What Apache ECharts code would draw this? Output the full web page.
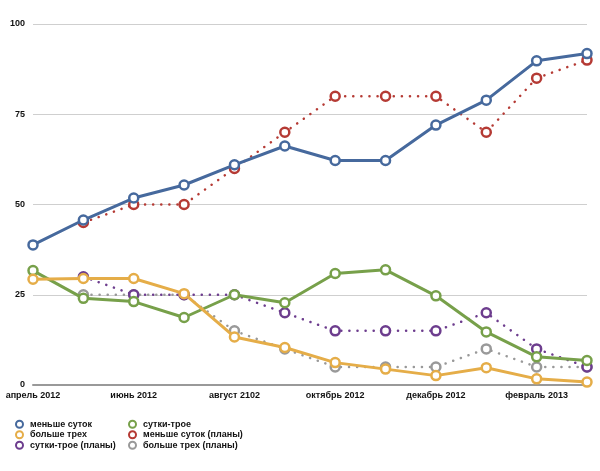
<!DOCTYPE html>
<html>
<head>
<meta charset="utf-8">
<script src="https://cdn.jsdelivr.net/npm/echarts@6/dist/echarts.min.js"></script>
<style>html,body{margin:0;padding:0;background:#fff}#c{width:600px;height:471px}</style>
</head>
<body>
<div id="c"></div>
<script>
const categories = ['апрель 2012','май 2012','июнь 2012','июль 2012','август 2102','сентябрь 2012','октябрь 2012','ноябрь 2012','декабрь 2012','январь 2013','февраль 2013','март 2013'];
const lessDay = [38.8, 45.7, 51.8, 55.4, 61, 66.2, 62.2, 62.2, 72, 78.9, 89.8, 91.8];
const dayThree = [31.7, 24, 23.1, 18.7, 25, 22.8, 30.9, 31.9, 24.7, 14.7, 7.8, 6.8];
const moreThree = [29.3, 29.5, 29.5, 25.3, 13.3, 10.4, 6.2, 4.4, 2.6, 4.8, 1.7, 0.8];
const lessDayPlan = [null, 45, 50, 50, 60, 70, 80, 80, 80, 70, 85, 90];
const dayThreePlan = [null, 30, 25, 25, 25, 20, 15, 15, 15, 20, 10, 5];
const moreThreePlan = [null, 25, 25, 25, 15, 10, 5, 5, 5, 10, 5, 5];
const yTicks = [0, 25, 50, 75, 100];

const C = {blue:'#46699d', green:'#77a04a', yellow:'#e5ad48', red:'#b53a34', purple:'#6d3d8e', gray:'#999999'};
const font = 'Liberation Sans, Arial, sans-serif';

function solid(name, data, color, z) {
  return {name, type:'line', data, z, symbol:'circle', symbolSize:9, showSymbol:true,
    itemStyle:{color:'#fff', borderColor:color, borderWidth:2.5},
    lineStyle:{color, width:3}, emphasis:{disabled:true}, animation:false};
}
function dotted(name, data, color, z) {
  return {name, type:'line', data, z, symbol:'circle', symbolSize:9, showSymbol:true,
    itemStyle:{color:'#fff', borderColor:color, borderWidth:2.5},
    lineStyle:{color, width:2.5, type:[0.1, 8], cap:'round'}, emphasis:{disabled:true}, animation:false};
}
const legendBase = {orient:'vertical', itemWidth:7, itemHeight:7, itemGap:0, icon:'circle',
  textStyle:{fontFamily:font, fontWeight:'bold', fontSize:9, lineHeight:10.5, color:'#111', padding:[0,0,0,2]}, selectedMode:false};

const chart = echarts.init(document.getElementById('c'), null, {renderer:'canvas'});
chart.setOption({
  backgroundColor:'#fff',
  animation:false,
  grid:{left:33, right:13, top:24, bottom:86},
  legend:[
    Object.assign({}, legendBase, {left:10, top:414, data:[
      {name:'меньше суток', itemStyle:{color:'#fff', borderColor:C.blue, borderWidth:2}},
      {name:'больше трех', itemStyle:{color:'#fff', borderColor:C.yellow, borderWidth:2}},
      {name:'сутки-трое (планы)', itemStyle:{color:'#fff', borderColor:C.purple, borderWidth:2}}]}),
    Object.assign({}, legendBase, {left:123, top:414, data:[
      {name:'сутки-трое', itemStyle:{color:'#fff', borderColor:C.green, borderWidth:2}},
      {name:'меньше суток (планы)', itemStyle:{color:'#fff', borderColor:C.red, borderWidth:2}},
      {name:'больше трех (планы)', itemStyle:{color:'#fff', borderColor:C.gray, borderWidth:2}}]})
  ],
  xAxis:{type:'category', data:categories, boundaryGap:false,
    axisLine:{lineStyle:{color:'#999', width:2}}, axisTick:{show:false},
    axisLabel:{interval:1, fontFamily:font, fontWeight:'bold', fontSize:9, color:'#111', margin:6}},
  yAxis:{type:'value', min:yTicks[0], max:yTicks[yTicks.length-1], interval:25,
    axisLine:{show:false}, axisTick:{show:false},
    splitLine:{lineStyle:{color:'#cfcfcf', width:1}},
    axisLabel:{fontFamily:font, fontWeight:'bold', fontSize:9, color:'#111', margin:8}},
  series:[
    dotted('больше трех (планы)', moreThreePlan, C.gray, 2),
    dotted('сутки-трое (планы)', dayThreePlan, C.purple, 3),
    dotted('меньше суток (планы)', lessDayPlan, C.red, 4),
    solid('сутки-трое', dayThree, C.green, 5),
    solid('больше трех', moreThree, C.yellow, 6),
    solid('меньше суток', lessDay, C.blue, 7)
  ]
});
</script>
</body>
</html>
